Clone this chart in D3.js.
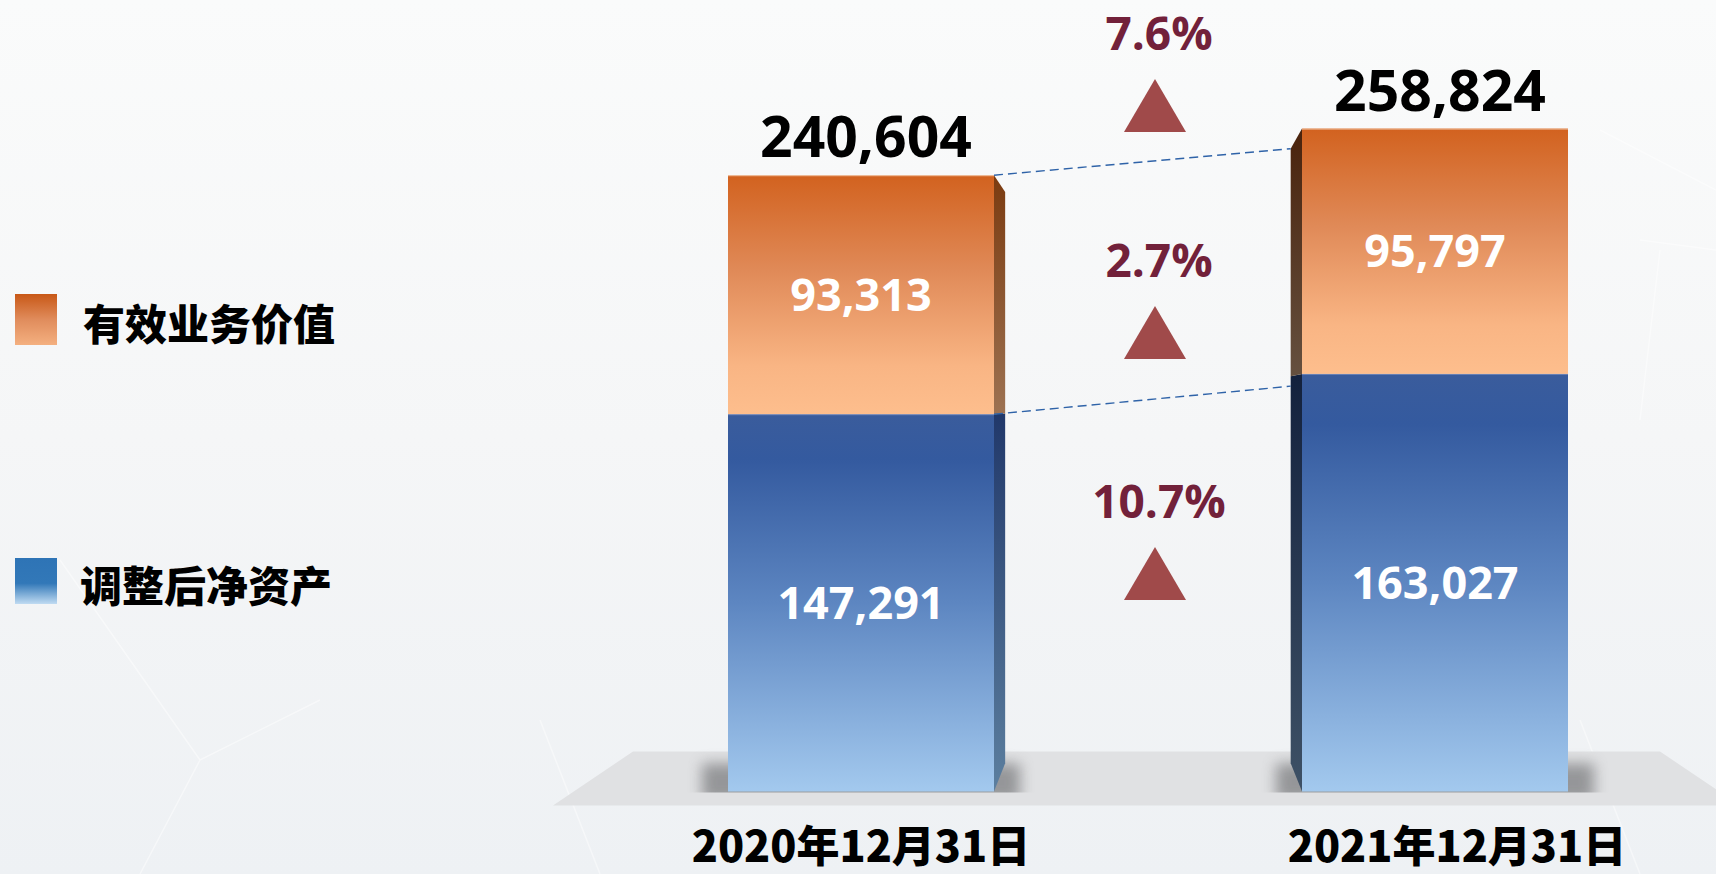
<!DOCTYPE html>
<html><head><meta charset="utf-8">
<script src="https://cdn.jsdelivr.net/npm/d3@7"></script>
<style>html,body{margin:0;padding:0;overflow:hidden;background:#f4f6f8}svg{display:block}</style>
</head><body><svg id="c" width="1716" height="874"></svg>
<script>
// ---------- data ----------
const categories = ["2020年12月31日", "2021年12月31日"];
const seriesNames = ["调整后净资产", "有效业务价值"];
const adjustedNetAssets = [147291, 163027];
const valueOfInForce = [93313, 95797];
const totals = [240604, 258824];
const growthLabels = ["7.6%", "2.7%", "10.7%"];

// ---------- layout ----------
const W = 1716, H = 874;
const svg = d3.select("#c");
const defs = svg.append("defs");
const numFont = "'Open Sans','Noto Sans CJK SC',sans-serif";
const cjkFont = "'Noto Sans CJK SC','Noto Sans',sans-serif";

const x = d3.scaleBand().domain(categories).range([728, 1568]).paddingInner(0.5366).paddingOuter(0);
const y = d3.scaleLinear().domain([0, 309000]).range([791.5, 0]);
const bw = x.bandwidth();
const VP = {x: 1147, y: 405}, depth = 0.073;
const far = (px, py) => [px + (VP.x - px) * depth, py + (VP.y - py) * depth];

function grad(id, stops, horiz) {
  const g = defs.append("linearGradient").attr("id", id)
    .attr("x1", 0).attr("y1", 0).attr("x2", horiz ? 1 : 0).attr("y2", horiz ? 0 : 1);
  stops.forEach(s => g.append("stop").attr("offset", s[0]).attr("stop-color", s[1]));
}
grad("bg", [[0, "#fafbfb"], [0.5, "#f5f6f7"], [1, "#eef1f4"]]);
grad("fOrange", [[0, "#d2621f"], [0.4, "#e08a58"], [0.8, "#f9b584"], [1, "#fdbe8d"]]);
grad("fBlue", [[0, "#3a5c9c"], [0.12, "#345a9f"], [0.5, "#5d86c1"], [1, "#a3c9ee"]]);
grad("s0Orange", [[0, "#7b3b10"], [1, "#9d7252"]]);
grad("s0Blue", [[0, "#21386a"], [1, "#5c7f9f"]]);
grad("s1Orange", [[0, "#4a230c"], [1, "#65503f"]]);
grad("s1Blue", [[0, "#13213d"], [1, "#3e5166"]]);
grad("lgOrange", [[0, "#c85817"], [0.5, "#e08c5c"], [1, "#f4b080"]]);
grad("lgBlue", [[0, "#2e74b6"], [0.55, "#3278b8"], [1, "#c0dbf2"]]);

const blur = defs.append("filter").attr("id", "blur").attr("x", "-50%").attr("y", "-50%").attr("width", "200%").attr("height", "200%");
blur.append("feGaussianBlur").attr("stdDeviation", 7);
defs.append("clipPath").attr("id", "floorClip").append("rect")
  .attr("x", 0).attr("y", 0).attr("width", W).attr("height", y(0) + 1);

// background
svg.append("rect").attr("width", W).attr("height", H).attr("fill", "url(#bg)");
const deco = svg.append("g").attr("stroke", "#ffffff").attr("stroke-width", 1.5).attr("opacity", 0.45).attr("fill", "none");
deco.append("path").attr("d", "M540,720 L600,874");
deco.append("path").attr("d", "M1600,130 L1716,190 M1640,240 L1716,250 M1660,250 L1640,420");
deco.append("path").attr("d", "M1580,720 L1640,874");
deco.append("path").attr("d", "M60,560 L200,760 L320,700 M200,760 L140,874");

// floor platform
const yb = y(0);
svg.append("path")
  .attr("d", `M${633},${yb - 40} L${1660},${yb - 40} L${1740},${yb + 14} L${553},${yb + 14} Z`)
  .attr("fill", "#e0e1e3");

// shadows
const shadowG = svg.append("g").attr("clip-path", "url(#floorClip)");
categories.forEach((c, i) => {
  shadowG.append("rect")
    .attr("x", x(c) - 26).attr("y", yb - 28).attr("width", bw + 52).attr("height", 38)
    .attr("fill", "#767779").attr("opacity", 0.7).attr("filter", "url(#blur)");
});

// stacked data
const rows = categories.map((c, i) => ({cat: c, [seriesNames[0]]: adjustedNetAssets[i], [seriesNames[1]]: valueOfInForce[i]}));
const stack = d3.stack().keys(seriesNames)(rows);

const barG = svg.append("g");
stack.forEach((layer, li) => {
  layer.forEach((d, i) => {
    const c = categories[i];
    const x0 = x(c), x1 = x0 + bw;
    const yTop = y(d[1]), yBot = y(d[0]);
    const edge = (x0 + bw / 2 < VP.x) ? x1 : x0;
    const fb = far(edge, yBot), ft = far(edge, yTop);
    const sideId = `s${i}${li === 0 ? "Blue" : "Orange"}`;
    barG.append("path")
      .attr("d", `M${edge},${yTop} L${edge},${yBot} L${fb[0]},${fb[1]} L${ft[0]},${ft[1]} Z`)
      .attr("fill", `url(#${sideId})`);
    barG.append("rect")
      .attr("x", x0).attr("y", yTop).attr("width", bw).attr("height", yBot - yTop)
      .attr("fill", li === 0 ? "url(#fBlue)" : "url(#fOrange)");
    barG.append("text")
      .attr("x", x0 + bw / 2).attr("y", (yTop + yBot) / 2).attr("dy", "0.36em")
      .attr("text-anchor", "middle").attr("fill", "#ffffff")
      .attr("font-family", numFont).attr("font-weight", 700).attr("font-size", 45)
      .text(d3.format(",")(d.data[seriesNames[li]]));
  });
});
categories.forEach((c, i) => {
  barG.append("line").attr("x1", x(c)).attr("x2", x(c) + bw)
    .attr("y1", y(totals[i]) + 0.5).attr("y2", y(totals[i]) + 0.5)
    .attr("stroke", "#f2c7a8").attr("stroke-width", 1);
  barG.append("line").attr("x1", x(c)).attr("x2", x(c) + bw)
    .attr("y1", y(adjustedNetAssets[i]) + 0.5).attr("y2", y(adjustedNetAssets[i]) + 0.5)
    .attr("stroke", "#7f95c4").attr("stroke-width", 1).attr("opacity", 0.7);
});

// connector dashed lines
const a = categories[0], b = categories[1];
const conn = [[totals[0], totals[1], 0], [adjustedNetAssets[0], adjustedNetAssets[1], 10]];
conn.forEach(([v0, v1, off]) => {
  const p1 = far(x(b), y(v1));
  svg.append("line")
    .attr("x1", x(a) + bw).attr("y1", y(v0))
    .attr("x2", p1[0]).attr("y2", p1[1] + off)
    .attr("stroke", "#2f63a8").attr("stroke-width", 1.4).attr("stroke-dasharray", "9,5");
});

// totals
categories.forEach((c, i) => {
  svg.append("text")
    .attr("x", x(c) + bw / 2 + 5).attr("y", y(totals[i]) - 18)
    .attr("text-anchor", "middle").attr("fill", "#000")
    .attr("font-family", numFont).attr("font-weight", 700).attr("font-size", 57)
    .text(d3.format(",")(totals[i]));
});

// category labels
categories.forEach((c, i) => {
  svg.append("text")
    .attr("x", x(c) + bw / 2 + (i === 1 ? 22 : 0)).attr("y", 862)
    .attr("text-anchor", "middle").attr("fill", "#000")
    .attr("font-family", cjkFont).attr("font-weight", 900).attr("font-size", 43)
    .text(c);
});

// growth annotations
const gx = (x(a) + bw + x(b)) / 2 + 7;
const growthY = [50, 277, 518];
growthLabels.forEach((g, i) => {
  svg.append("text")
    .attr("x", gx + 4).attr("y", growthY[i])
    .attr("text-anchor", "middle").attr("fill", "#72213a")
    .attr("font-family", numFont).attr("font-weight", 700).attr("font-size", 46)
    .text(g);
  const ty = growthY[i] + 29;
  svg.append("path")
    .attr("d", `M${gx},${ty} L${gx + 31},${ty + 53} L${gx - 31},${ty + 53} Z`)
    .attr("fill", "#a04a4a");
});

// legend
const legend = [
  {name: seriesNames[1], fill: "url(#lgOrange)", y: 294, h: 51, ty: 321, tx: 83},
  {name: seriesNames[0], fill: "url(#lgBlue)", y: 558, h: 46, ty: 583, tx: 80}
];
legend.forEach(l => {
  svg.append("rect").attr("x", 15).attr("y", l.y).attr("width", 42).attr("height", l.h).attr("fill", l.fill);
  svg.append("text").attr("x", l.tx).attr("y", l.ty).attr("dominant-baseline", "central")
    .attr("fill", "#000").attr("font-family", cjkFont).attr("font-weight", 900).attr("font-size", 42)
    .text(l.name);
});
</script></body></html>
